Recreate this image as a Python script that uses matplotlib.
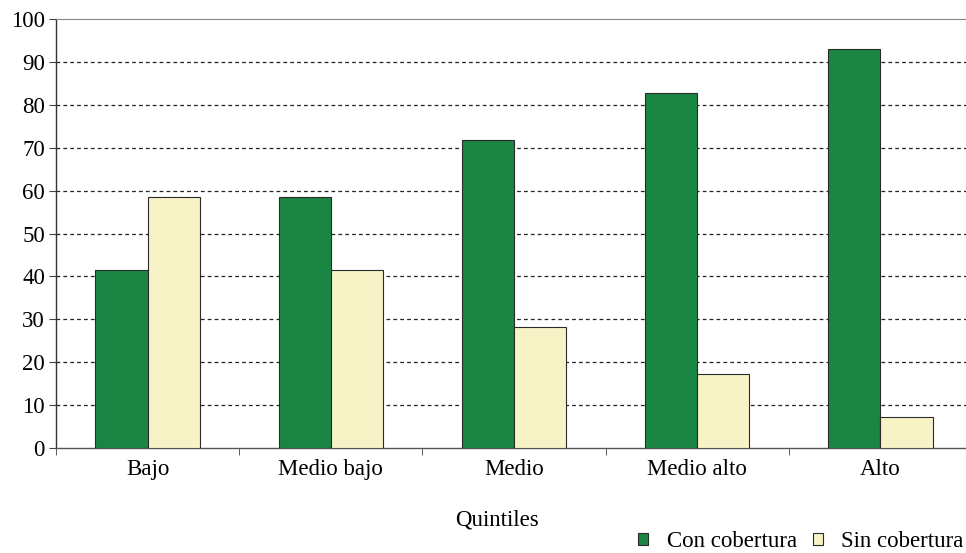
import matplotlib
matplotlib.use("Agg")
import matplotlib.pyplot as plt
import numpy as np

categories = ["Bajo", "Medio bajo", "Medio", "Medio alto", "Alto"]
con_cobertura = [41.5, 58.5, 71.8, 82.8, 93.0]
sin_cobertura = [58.5, 41.5, 28.2, 17.2, 7.2]
y_ticks = [0, 10, 20, 30, 40, 50, 60, 70, 80, 90, 100]

plt.rcParams["font.family"] = ["Liberation Serif", "DejaVu Serif"]

W, H = 966, 553
fig = plt.figure(figsize=(W / 100, H / 100), dpi=100)
ax = fig.add_axes([56 / W, (H - 448) / H, (972 - 56) / W, (448 - 19) / H])

x = np.arange(len(categories))
bw = 0.285
green = "#1b8543"
cream = "#f8f3c6"
ax.bar(x - bw / 2, con_cobertura, bw, color=green, edgecolor="#2a2a2a",
       linewidth=0.8, label="Con cobertura", zorder=3)
ax.bar(x + bw / 2, sin_cobertura, bw, color=cream, edgecolor="#2a2a2a",
       linewidth=0.8, label="Sin cobertura", zorder=3)

ax.set_xlim(-0.5, len(categories) - 0.5)
ax.set_ylim(0, 100)
ax.set_yticks(y_ticks)
ax.set_yticklabels([str(v) for v in y_ticks], fontsize=16.5)
for v in y_ticks[1:-1]:
    ax.axhline(v, color="#222222", linestyle=(0, (3, 2.5)), linewidth=0.9, zorder=1)

ax.set_xticks(x)
ax.set_xticklabels(categories, fontsize=16.5)
ax.tick_params(axis="x", length=0, pad=8)
ax.set_xticks(np.arange(len(categories) + 1) - 0.5, minor=True)
ax.tick_params(axis="x", which="minor", length=5, direction="out", color="#444444")
ax.tick_params(axis="y", length=5, direction="out", color="#444444", pad=3)

ax.spines["right"].set_visible(False)
ax.spines["top"].set_color("#888888")
ax.spines["left"].set_color("#333333")
ax.spines["bottom"].set_color("#555555")
ax.spines["left"].set_linewidth(1.0)
ax.spines["bottom"].set_linewidth(1.0)

fig.text(497 / W, 1 - 520 / H, "Quintiles", ha="center", va="center", fontsize=16.5)
fig.legend(loc="lower right", bbox_to_anchor=(1.019, -0.036), ncol=2,
           frameon=False, fontsize=16.5, handlelength=0.45, handleheight=0.45,
           handletextpad=0.8, columnspacing=0.7)

fig.savefig("out.png", dpi=100)
